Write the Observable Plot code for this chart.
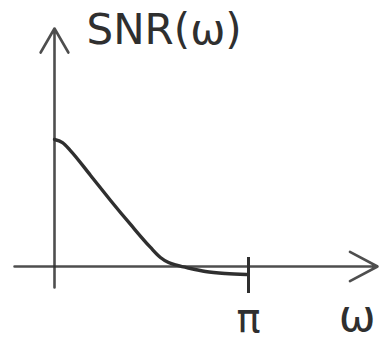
<!DOCTYPE html>
<html>
<head>
<meta charset="utf-8">
<script src="https://cdn.jsdelivr.net/npm/d3@7"></script>
<script src="https://cdn.jsdelivr.net/npm/@observablehq/plot@0.6"></script>
<style>
  html, body { margin: 0; padding: 0; background: #fff; }
  #chart svg { display: block; }
</style>
</head>
<body>
<div id="chart"></div>
<script>
// Frequency ω in units of π, and the sketched SNR(ω) profile (peak normalised to 1)
const omega = [0, 0.041, 0.082, 0.186, 0.289, 0.392, 0.495, 0.546, 0.588, 0.634, 0.701, 0.778, 0.881, 0.99];
const snr   = [1.0, 0.976, 0.913, 0.717, 0.520, 0.331, 0.150, 0.071, 0.031, 0.008, -0.016, -0.039, -0.055, -0.063];

// Axis extents (data units) and tick positions/labels
const xAxisSpan = [-0.206, 1.665];
const yAxisSpan = [-0.165, 1.874];
const xTicks = [1];
const xTickLabels = ["π"];
const xLabel = "ω";
const yLabel = "SNR(ω)";

const curve = omega.map((w, i) => ({w, s: snr[i]}));
const ink = "#2f2f2f";
const font = "DejaVu Sans, sans-serif";

const chart = Plot.plot({
  width: 383,
  height: 341,
  marginLeft: 54,
  marginRight: 0,
  marginTop: 0,
  marginBottom: 75,
  style: {background: "#fff", fontFamily: font},
  x: {domain: [0, 1], range: [54, 248], axis: null, label: null},
  y: {domain: [0, 1], range: [266, 139], axis: null, label: null},
  marks: [
    // horizontal axis with arrow head
    Plot.arrow([0], {
      x1: xAxisSpan[0], x2: xAxisSpan[1], y1: 0, y2: 0,
      stroke: ink, strokeWidth: 2.6, headLength: 18, headAngle: 56, strokeOpacity: 0.85
    }),
    // vertical axis with arrow head
    Plot.arrow([0], {
      x1: 0, x2: 0, y1: yAxisSpan[0], y2: yAxisSpan[1],
      stroke: ink, strokeWidth: 2.6, headLength: 16, headAngle: 60, strokeOpacity: 0.85
    }),
    // tick and label at ω = π
    Plot.axisX(xTicks, {
      tickFormat: (d, i) => xTickLabels[i],
      label: null,
      tickSize: 36,
      dy: -9,
      tickPadding: 10,
      fontSize: 40,
      stroke: ink,
      strokeWidth: 3,
      fill: ink
    }),
    // SNR(ω) curve
    Plot.line(curve, {
      x: "w", y: "s", curve: "monotone-x",
      stroke: ink, strokeWidth: 3.4, strokeLinecap: "round", strokeLinejoin: "round"
    }),
    // axis titles
    Plot.text([yLabel], {
      frameAnchor: "top-left", text: d => d,
      dx: 32, dy: 14, textAnchor: "start", lineAnchor: "top",
      fontSize: 42, fill: ink
    }),
    Plot.text([xLabel], {
      frameAnchor: "bottom-right", text: d => d,
      dx: -8, dy: 64, textAnchor: "end", lineAnchor: "bottom",
      fontSize: 44, fill: ink
    })
  ]
});

document.getElementById("chart").appendChild(chart);
</script>
</body>
</html>
